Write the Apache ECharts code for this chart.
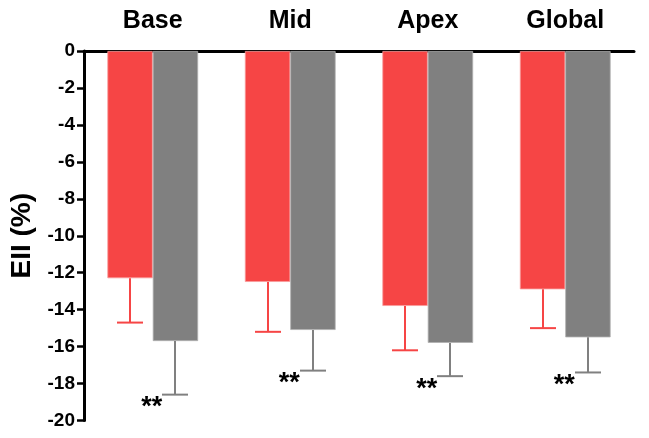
<!DOCTYPE html>
<html>
<head>
<meta charset="utf-8">
<script src="https://cdn.jsdelivr.net/npm/echarts@6/dist/echarts.min.js"></script>
<style>
html,body{margin:0;padding:0;background:#fff;}
#chart{width:649px;height:438px;}
</style>
</head>
<body>
<div id="chart"></div>
<script>
var categories = ['Base', 'Mid', 'Apex', 'Global'];
var redMeans = [-12.3, -12.5, -13.8, -12.9];
var redSem = [2.4, 2.7, 2.4, 2.1];
var grayMeans = [-15.7, -15.1, -15.8, -15.5];
var graySem = [2.9, 2.2, 1.8, 1.9];
var sigLabels = ['**', '**', '**', '**'];
var yTicks = [0, -2, -4, -6, -8, -10, -12, -14, -16, -18, -20];

var RED = '#f64545';
var GRAY = '#808080';
var FONT = 'Arial, "Liberation Sans", Helvetica, sans-serif';
var GAP = 0.34;

function errData(means, sems) {
  return means.map(function (m, i) { return [i, m - sems[i], m]; });
}

function errRender(side, color) {
  return function (params, api) {
    var idx = api.value(0);
    var endV = api.value(1);
    var meanV = api.value(2);
    var p0 = api.coord([idx, meanV]);
    var p1 = api.coord([idx, endV]);
    var catW = api.size([1, 0])[0];
    var barW = catW * (1 - GAP) / 2;
    var x = Math.round(p0[0] + side * barW / 2);
    var cap = 13;
    return {
      type: 'group',
      children: [
        { type: 'line', shape: { x1: x, y1: p0[1], x2: x, y2: p1[1] }, style: { stroke: color, lineWidth: 2 } },
        { type: 'line', shape: { x1: x - cap, y1: p1[1], x2: x + cap, y2: p1[1] }, style: { stroke: color, lineWidth: 2 } }
      ]
    };
  };
}

var sigData = grayMeans.map(function (m, i) { return [i, m - graySem[i], sigLabels[i]]; });

var chart = echarts.init(document.getElementById('chart'));
chart.setOption({
  backgroundColor: '#fff',
  animation: false,
  grid: { left: 82, right: 15, top: 51, bottom: 17.5, containLabel: false },
  xAxis: {
    type: 'category',
    data: categories,
    position: 'top',
    axisLine: { show: true, lineStyle: { color: '#000', width: 3 } },
    axisTick: { show: false },
    axisLabel: { color: '#000', fontSize: 25, fontWeight: 'bold', fontFamily: FONT, margin: 17 },
    splitLine: { show: false }
  },
  yAxis: {
    type: 'value',
    min: -20,
    max: 0,
    interval: 2,
    name: 'EII (%)',
    nameLocation: 'middle',
    nameGap: 48,
    nameRotate: 90,
    nameTextStyle: { color: '#000', fontSize: 28, fontWeight: 'bold', fontFamily: FONT },
    axisLine: { show: true, lineStyle: { color: '#000', width: 3 } },
    axisTick: { show: true, length: 7, lineStyle: { color: '#000', width: 2.5 } },
    axisLabel: {
      color: '#000', fontSize: 19, fontWeight: 'bold', fontFamily: FONT, margin: 9,
      formatter: function (v) { return yTicks.indexOf(v) >= 0 ? String(v) : ''; }
    },
    splitLine: { show: false }
  },
  series: [
    {
      type: 'bar', data: redMeans, barGap: '0%', barCategoryGap: '34%',
      itemStyle: { color: RED, borderColor: '#f99a9a', borderWidth: 0.8 }
    },
    {
      type: 'bar', data: grayMeans, barGap: '0%', barCategoryGap: '34%',
      itemStyle: { color: GRAY, borderColor: '#b0b0b0', borderWidth: 0.8 }
    },
    {
      type: 'custom', data: errData(redMeans, redSem), renderItem: errRender(-1, RED),
      encode: { x: 0, y: [1, 2] }, z: 3
    },
    {
      type: 'custom', data: errData(grayMeans, graySem), renderItem: errRender(1, GRAY),
      encode: { x: 0, y: [1, 2] }, z: 3
    },
    {
      type: 'custom', data: sigData, encode: { x: 0, y: 1 }, z: 4,
      renderItem: function (params, api) {
        var p = api.coord([api.value(0), api.value(1)]);
        return {
          type: 'text',
          style: {
            x: p[0] - 1, y: p[1] + 13, text: sigLabels[params.dataIndex],
            fill: '#000', fontSize: 27, fontWeight: 'bold', fontFamily: FONT,
            textAlign: 'center', textVerticalAlign: 'middle'
          }
        };
      }
    }
  ]
});
</script>
</body>
</html>
